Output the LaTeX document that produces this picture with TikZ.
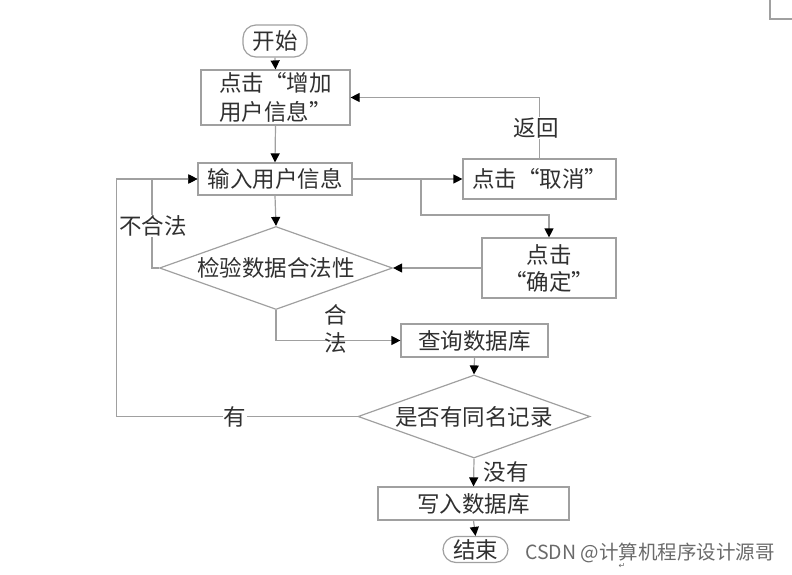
\documentclass[tikz,border=0pt]{standalone}
\usepackage{fontspec}
\setmainfont{Noto Sans CJK SC}
\newfontfamily\symfont{DejaVu Sans}
\usetikzlibrary{shapes.geometric,arrows.meta}
\definecolor{ln}{HTML}{A0A0A0}
\definecolor{tx}{HTML}{303030}
\definecolor{wm}{HTML}{6A6A6A}
\newcommand\cjkfs{\fontsize{22.5pt}{29pt}\selectfont}
\begin{document}
\begin{tikzpicture}[x=1pt,y=-1pt,
  box/.style={draw=ln,line width=1.2pt,rectangle,inner sep=0pt,text=tx,font=\cjkfs,align=center},
  term/.style={box,rounded corners=13pt},
  dia/.style={draw=ln,line width=1.2pt,diamond,aspect=2.8,inner sep=0pt,text=tx,font=\cjkfs},
  arr/.style={draw=ln,line width=1.2pt,-{Triangle[length=9pt,width=9pt,black]}},
  lab/.style={text=tx,font=\cjkfs,fill=white,inner sep=1pt,align=center}]
\path[use as bounding box] (0,0) rectangle (792,574);
% nodes
\node[term,minimum width=64pt,minimum height=32pt] (start) at (275,41) {开始};
\node[box,minimum width=149pt,minimum height=55pt] (b1) at (275.5,97.5) {点击“增加\\用户信息”};
\node[box,minimum width=154pt,minimum height=32pt] (b2) at (275,179) {输入用户信息};
\node[box,minimum width=153pt,minimum height=40pt] (cancel) at (539.5,179) {点击“取消”};
\node[box,minimum width=134pt,minimum height=60pt,font=\fontsize{22.5pt}{27pt}\selectfont] (confirm) at (549,268) {点击\\“确定”};
\node[dia,minimum width=233pt,minimum height=83pt] (d1) at (276,268) {检验数据合法性};
\node[box,minimum width=147pt,minimum height=33pt] (b3) at (474.5,340.5) {查询数据库};
\node[dia,minimum width=232pt,minimum height=83pt] (d2) at (474,416.5) {是否有同名记录};
\node[box,minimum width=191pt,minimum height=33pt] (b4) at (473.5,503.5) {写入数据库};
\node[term,minimum width=65pt,minimum height=26pt] (end) at (475.5,549.5) {结束};
% connectors
\draw[arr] (start.south) -- (b1.north);
\draw[arr] (b1.south) -- (b2.north);
\draw[arr] (b2.east) -- (cancel.west);
\coordinate (br) at (421,179);
\draw[arr] (br) -- ++(0,36) -| (confirm.north);
\draw[arr] (cancel.north) |- (b1.east);
\node[lab] (lret) at (536,128) {返回};
\draw[arr] (confirm.west) -- (d1.east);
\draw[arr] (b2.south) -- (d1.north);
\draw[arr] (d1.west) -- ++(-7,0) |- (b2.west);
\node[lab] (lbad) at (153,226) {不合法};
\draw[arr] (d1.south) |- (b3.west);
\node[lab,font=\fontsize{22.5pt}{28pt}\selectfont,fill=none] (lok) at (336,329) {合\\法};
\draw[arr] (b3.south) -- (d2.north);
\draw[arr] (d2.west) -- ++(-241,0) |- (b2.west);
\node[lab] (lyes) at (235,417) {有};
\draw[arr] (d2.south) -- (b4.north);
\node[lab,fill=none] (lno) at (506,472) {没有};
\draw[arr] (b4.south) -- (end.north);
% watermark and artifacts
\node[text=wm,font=\fontsize{19.5pt}{23pt}\selectfont,inner sep=0pt,anchor=west] (wmk) at (525,553) {CSDN @计算机程序设计源哥};
\node[text=wm,font=\symfont\fontsize{8pt}{9pt}\selectfont,inner sep=0pt] (pm) at (622,566) {↵};
\draw[draw=ln,line width=1.2pt] (770,0) -- (770,19) -- (792,19);
\end{tikzpicture}
\end{document}
